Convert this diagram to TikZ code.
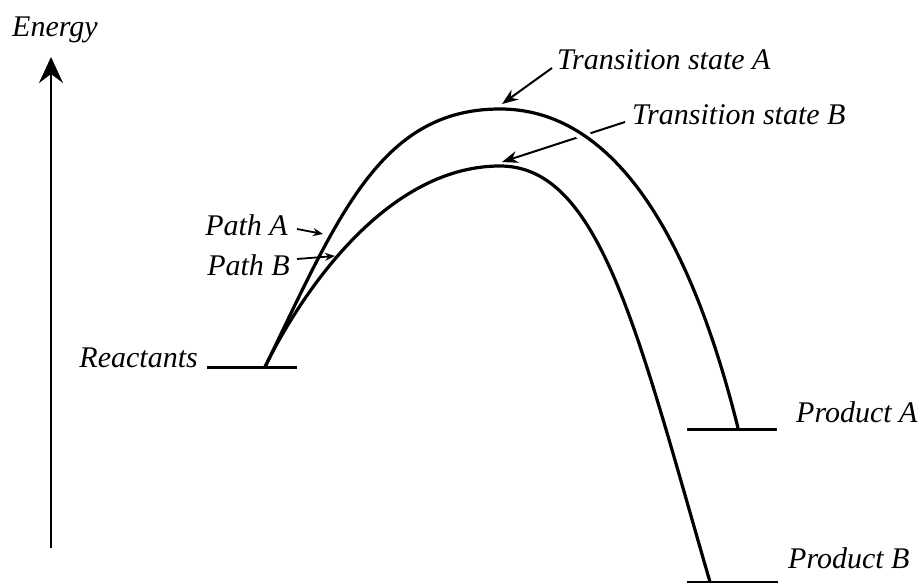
\documentclass[tikz,border=0pt]{standalone}
\usepackage{fontspec}
\setmainfont{Liberation Serif}
\usetikzlibrary{arrows.meta}
\tikzset{
  lbl/.style={font=\fontsize{30}{36}\selectfont\itshape, inner sep=0pt},
  pathline/.style={line width=3.2pt},
  levelline/.style={line width=3pt},
  pointer/.style={-{Stealth[length=16pt,width=12pt]}, line width=2pt},
  smallpointer/.style={-{Stealth[length=10pt,width=8pt]}, line width=1.8pt},
  energyaxis/.style={-{Stealth[length=26pt,width=24pt,inset=9pt]}, line width=2.8pt}
}
\newcommand{\routeA}{(react) .. controls (338,217) and (380,109) .. (tsA) .. controls (610,109) and (688,227) .. (prodA)}
\newcommand{\routeB}{(react) .. controls (294,307) and (380,166) .. (tsB) .. controls (600,166) and (637.5,332) .. (prodB)}
\begin{document}
\begin{tikzpicture}[x=1pt,y=-1pt]
  \useasboundingbox (0,0) rectangle (922,583);
  % texts
  \node[lbl, anchor=base west] (energy) at (12,37) {Energy};
  \node[lbl, anchor=base west] (tsAtext) at (557,70) {Transition state A};
  \node[lbl, anchor=base west] (tsBtext) at (632,125) {Transition state B};
  \node[lbl, anchor=base east] (pathA) at (288,236) {Path A};
  \node[lbl, anchor=base east] (pathB) at (290,275) {Path B};
  \node[lbl, anchor=base east] (reac) at (198,367) {Reactants};
  \node[lbl, anchor=base west] (prodAtext) at (796,422) {Product A};
  \node[lbl, anchor=base west] (prodBtext) at (788,568) {Product B};
  % levels and peaks
  \coordinate (react) at (265,367);
  \coordinate (tsA) at (500,109);
  \coordinate (tsB) at (500,166);
  \coordinate (prodA) at (738,428);
  \coordinate (prodB) at (710,582);
  \coordinate (axisfoot) at (51,548);
  \coordinate (axishead) at (51,57);
  \coordinate (tsAtip) at (502,104);
  \coordinate (tsBtip) at (502,162);
  \coordinate (pathAtip) at (323,234);
  \coordinate (pathBtip) at (335,256);

  \draw[energyaxis] (axisfoot) -- (axishead);

  \draw[pointer] ([shift={(-5pt,2pt)}]tsAtext.base west) -- (tsAtip);
  \draw[pointer] ([shift={(-7pt,3pt)}]tsBtext.base west) -- (tsBtip);
  \draw[smallpointer] ([shift={(9pt,7pt)}]pathA.base east) -- (pathAtip);
  \draw[smallpointer] ([shift={(7pt,16pt)}]pathB.base east) -- (pathBtip);

  % gap in the leader where it passes under path A
  \begin{scope}
    \clip (582,136) circle (9);
    \draw[line width=12pt, white] \routeA;
  \end{scope}
  \draw[pathline] \routeA;
  \draw[pathline] \routeB;

  \draw[levelline] ([xshift=-58pt]react) -- ([xshift=32pt]react);
  \draw[levelline] ([xshift=-51pt,yshift=-1pt]prodA) -- ([xshift=39pt,yshift=-1pt]prodA);
  \draw[levelline] ([xshift=-23pt]prodB) -- ([xshift=68pt]prodB);
\end{tikzpicture}
\end{document}
